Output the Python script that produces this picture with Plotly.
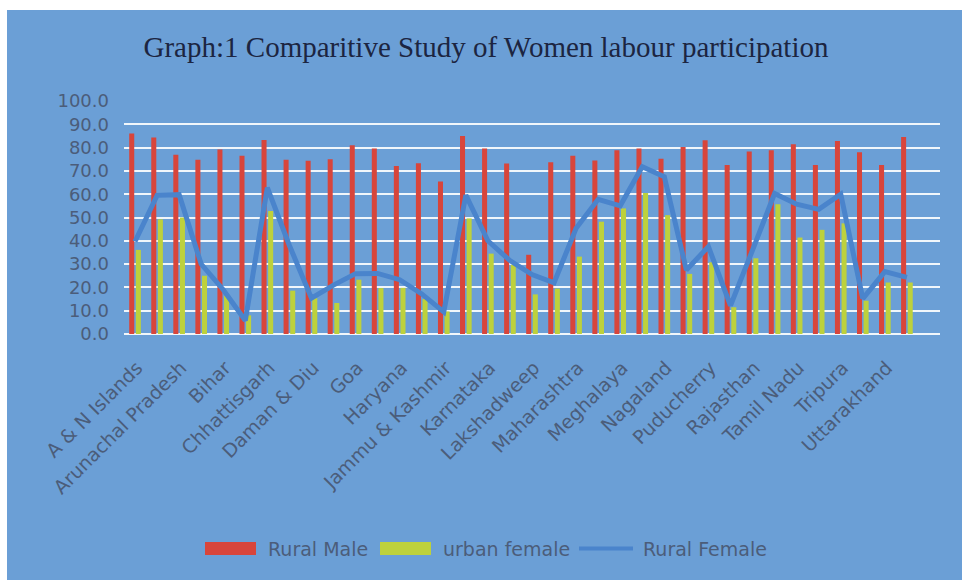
import plotly.graph_objects as go

# ---------------- data ----------------
states = [
    "A & N Islands", "Andhra Pradesh", "Arunachal Pradesh", "Assam", "Bihar",
    "Chandigarh", "Chhattisgarh", "D & N Haveli", "Daman & Diu", "Delhi",
    "Goa", "Gujarat", "Haryana", "Himachal Pradesh", "Jammu & Kashmir",
    "Jharkhand", "Karnataka", "Kerala", "Lakshadweep", "Madhya Pradesh",
    "Maharashtra", "Manipur", "Meghalaya", "Mizoram", "Nagaland",
    "Odisha", "Puducherry", "Punjab", "Rajasthan", "Sikkim",
    "Tamil Nadu", "Telangana", "Tripura", "Uttar Pradesh", "Uttarakhand",
    "West Bengal",
]
rural_male = [
    86.1, 84.3, 76.9, 74.8, 79.2, 76.5, 83.3, 74.8, 74.4, 75.0,
    81.0, 79.6, 72.1, 73.3, 65.5, 85.0, 79.6, 73.2, 34.0, 73.7,
    76.5, 74.5, 78.9, 79.6, 75.2, 80.3, 83.2, 72.5, 78.3, 78.9,
    81.4, 72.5, 82.8, 78.0, 72.5, 84.6,
]
urban_female = [
    36.1, 49.2, 50.0, 25.0, 16.5, 8.0, 52.8, 18.6, 15.4, 13.3,
    23.3, 19.7, 19.8, 15.0, 9.7, 49.6, 34.5, 29.7, 17.0, 19.5,
    33.2, 48.2, 53.9, 60.5, 51.0, 25.8, 30.8, 11.5, 32.5, 55.7,
    41.4, 44.7, 47.5, 14.3, 22.1, 22.1,
]
rural_female = [
    39.7, 59.5, 59.8, 30.0, 19.0, 5.8, 62.8, 38.0, 15.4, 21.0,
    25.9, 26.0, 23.3, 17.2, 9.5, 59.6, 40.0, 31.5, 25.5, 22.0,
    45.4, 57.8, 55.0, 71.8, 67.5, 27.5, 37.5, 12.2, 36.0, 60.3,
    55.7, 53.5, 60.0, 15.2, 26.8, 24.3,
]
series_names = ["Rural Male", "urban female", "Rural Female"]
y_ticks = [0, 10, 20, 30, 40, 50, 60, 70, 80, 90, 100]
n_slots = 37  # the chart keeps one empty category slot at the right

# ---------------- style ----------------
RED = "#d8453b"
YEL = "#bdd13c"
LINE = "#4a84cc"
BG = "#6b9fd6"
TXT = "#4b5d7a"
FONT = "DejaVu Sans"

W, H = 962, 580
ML, MR, MT, MB = 124, 22, 101, 246
PW = W - ML - MR
PH = H - MT - MB


def px_x(p):
    return (p - ML) / PW


def px_y(p):
    return (H - MB - p) / PH


idx = list(range(len(states)))

fig = go.Figure()
fig.add_trace(go.Bar(x=idx, y=rural_male, name=series_names[0],
                     marker=dict(color=RED, line=dict(width=0))))
fig.add_trace(go.Bar(x=idx, y=urban_female, name=series_names[1],
                     marker=dict(color=YEL, line=dict(width=0))))
fig.add_trace(go.Scatter(x=idx, y=rural_female, name=series_names[2],
                         mode="lines",
                         line=dict(color=LINE, width=5)))

shapes = [
    dict(type="rect", xref="paper", yref="paper", layer="below",
         x0=px_x(7), x1=px_x(W + 2), y0=px_y(H + 2), y1=px_y(10),
         fillcolor=BG, line=dict(width=0)),
]

# legend (drawn manually to reproduce the wide swatches)
leg_y = 548.5
shapes += [
    dict(type="rect", xref="paper", yref="paper",
         x0=px_x(205), x1=px_x(256), y0=px_y(leg_y + 6.5), y1=px_y(leg_y - 6.5),
         fillcolor=RED, line=dict(width=0)),
    dict(type="rect", xref="paper", yref="paper",
         x0=px_x(380), x1=px_x(431), y0=px_y(leg_y + 6.5), y1=px_y(leg_y - 6.5),
         fillcolor=YEL, line=dict(width=0)),
    dict(type="line", xref="paper", yref="paper",
         x0=px_x(579), x1=px_x(633), y0=px_y(leg_y), y1=px_y(leg_y),
         line=dict(color=LINE, width=4)),
]
annotations = []
for name, xp in zip(series_names, [266, 441, 641]):
    annotations.append(dict(text=name, xref="paper", yref="paper",
                            x=px_x(xp), y=px_y(leg_y), xanchor="left",
                            yanchor="middle", showarrow=False,
                            font=dict(family=FONT, size=19, color=TXT)))

fig.update_layout(
    width=W, height=H,
    margin=dict(l=ML, r=MR, t=MT, b=MB, pad=0),
    paper_bgcolor="white",
    plot_bgcolor="rgba(0,0,0,0)",
    barmode="group",
    bargap=0.40,
    bargroupgap=0.24,
    showlegend=False,
    title=dict(text="Graph:1 Comparitive Study of Women labour participation",
               font=dict(family="Liberation Serif", size=29, color="#1c2541"),
               x=486 / W, xref="container", xanchor="center",
               y=1 - 47 / H, yref="container", yanchor="middle"),
    shapes=shapes,
    annotations=annotations,
)
fig.update_xaxes(
    range=[-0.5, n_slots - 0.5],
    tickmode="array", tickvals=idx[::2], ticktext=states[::2],
    tickangle=-45, showgrid=False, zeroline=False, showline=False,
    ticks="", tickfont=dict(family=FONT, size=19, color=TXT),
    ticklabelstandoff=18, ticklabelshift=2,
)
fig.update_yaxes(
    range=[0, 100], tickmode="array", tickvals=y_ticks,
    tickformat=".1f", showgrid=True, gridcolor="rgba(255,255,255,0.9)",
    gridwidth=1.5, zeroline=True, zerolinecolor="rgba(255,255,255,0.9)",
    zerolinewidth=1.5, showline=False, ticks="",
    tickfont=dict(family=FONT, size=18, color=TXT),
    ticklabelstandoff=14,
)

fig.write_html("out.html")
